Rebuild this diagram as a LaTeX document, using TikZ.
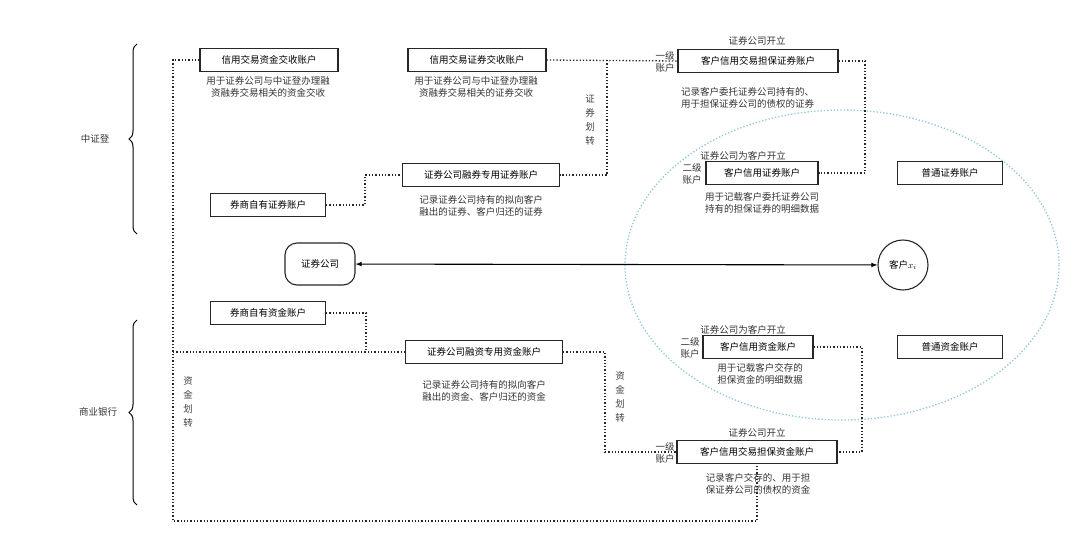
\documentclass[tikz,border=0pt]{standalone}
\usepackage{fontspec}
\setmainfont{Noto Sans CJK SC}
\usetikzlibrary{decorations.pathreplacing}
\begin{document}
\begin{tikzpicture}[x=1pt,y=-1pt,
  acc/.style={draw=black!85,line width=1.1pt,inner sep=0pt,minimum height=23pt,font=\fontsize{9.5}{11}\selectfont},
  lbl/.style={font=\fontsize{9.5}{11.5}\selectfont,text=black!80,align=center,inner sep=0pt},
  conn/.style={dotted,line width=1.3pt,black!85},
  vtxt/.style={font=\fontsize{9.5}{14}\selectfont,text=black!75,align=center,inner sep=0pt}]
\useasboundingbox (0,0) rectangle (1080,544);
% ellipse
\draw[cyan!45!teal!50,dotted,line width=1.3pt] (842,265) ellipse [x radius=217,y radius=155];
% boxes
\node[acc,minimum width=138pt] (zjjs) at (269,60) {信用交易资金交收账户};
\node[lbl] at (268,87) {用于证券公司与中证登办理融\\资融券交易相关的资金交收};
\node[acc,minimum width=138pt] (zqjs) at (477,60) {信用交易证券交收账户};
\node[lbl] at (476,87) {用于证券公司与中证登办理融\\资融券交易相关的证券交收};
\node[acc,minimum width=157pt] (rqzy) at (481,175) {证券公司融券专用证券账户};
\node[lbl] at (481,206) {记录证券公司持有的拟向客户\\融出的证券、客户归还的证券};
\node[acc,minimum width=115pt] (zyzq) at (268,205) {券商自有证券账户};
\node[acc,minimum width=160pt] (dbzq) at (758,61) {客户信用交易担保证券账户};
\node[lbl] at (757,41) {证券公司开立};
\node[lbl] at (665,62) {一级\\账户};
\node[lbl,align=left,anchor=west] at (681,98) {记录客户委托证券公司持有的、\\用于担保证券公司的债权的证券};
\node[acc,minimum width=112pt] (xyzq) at (762,173) {客户信用证券账户};
\node[lbl] at (743,156) {证券公司为客户开立};
\node[lbl] at (692,174) {二级\\账户};
\node[lbl] at (762,203) {用于记载客户委托证券公司\\持有的担保证券的明细数据};
\node[acc,minimum width=105pt] (ptzq) at (950,173) {普通证券账户};
\node[draw=black!85,line width=1.1pt,rounded corners=12pt,minimum width=70pt,minimum height=42pt,font=\fontsize{9.5}{11}\selectfont] (gs) at (320,264) {证券公司};
\node[draw=black!85,line width=1.1pt,circle,minimum size=50pt,inner sep=0pt,font=\fontsize{9.5}{11}\selectfont] (kh) at (903,265) {客户$x_i$};
\draw[line width=1.1pt,<->,>=latex] (gs) -- (kh);
\node[acc,minimum width=115pt] (zyzj) at (268,313) {券商自有资金账户};
\node[acc,minimum width=157pt] (rzzy) at (484,352) {证券公司融资专用资金账户};
\node[lbl] at (484,391) {记录证券公司持有的拟向客户\\融出的资金、客户归还的资金};
\node[acc,minimum width=110pt] (xyzj) at (758,347) {客户信用资金账户};
\node[lbl] at (743,330) {证券公司为客户开立};
\node[lbl] at (690,348) {二级\\账户};
\node[lbl] at (760,374) {用于记载客户交存的\\担保资金的明细数据};
\node[acc,minimum width=105pt] (ptzj) at (950,347) {普通资金账户};
\node[acc,minimum width=160pt] (dbzj) at (757,452) {客户信用交易担保资金账户};
\node[lbl] at (757,433) {证券公司开立};
\node[lbl] at (665,453) {一级\\账户};
\node[lbl] at (758,484) {记录客户交存的、用于担\\保证券公司的债权的资金};
% vertical texts
\node[vtxt] at (590,120) {证\\券\\划\\转};
\node[vtxt] at (620,397) {资\\金\\划\\转};
\node[vtxt] at (188,402) {资\\金\\划\\转};
% braces
\draw[line width=1pt,decorate,decoration={brace,amplitude=8pt}] (137,234) -- (137,44);
\node[lbl] at (95,139) {中证登};
\draw[line width=1pt,decorate,decoration={brace,amplitude=8pt}] (137,505) -- (137,320);
\node[lbl] at (98,412) {商业银行};
% connectors
\draw[conn] (zjjs.west) -| (173,521) -| (dbzj.south);
\draw[conn] (173,352) -- (rzzy.west);
\draw[conn] (zyzj.east) -| (366,352);
\draw[conn] (rzzy.east) -| (605,452) -- (dbzj.west);
\draw[conn] (xyzj.east) -| (862,452) -- (dbzj.east);
\draw[conn] (zqjs.east) -- (dbzq.west);
\draw[conn] (607,60) |- (rqzy.east);
\draw[conn] (zyzq.east) -| (365,175) -- (rqzy.west);
\draw[conn] (dbzq.east) -| (865,173) -- (xyzq.east);
\end{tikzpicture}
\end{document}
